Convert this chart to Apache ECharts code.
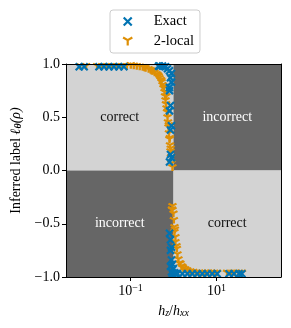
<!DOCTYPE html>
<html><head><meta charset="utf-8">
<script src="https://cdn.jsdelivr.net/npm/echarts@6/dist/echarts.min.js"></script>
<style>html,body{margin:0;padding:0;background:#fff}#c{width:291px;height:328px}</style>
</head><body><div id="c"></div>
<script>
// h_z/h_xx values and inferred labels
const exactH = [0.00641,0.00836,0.0185,0.0242,0.0316,0.0412,0.0537,0.0701,
  0.450,0.474,0.556,0.653,0.726,0.807,0.897,0.851,0.897,0.807,0.807,0.851,0.807,0.897,0.851,0.851,0.897,0.807,
  0.807,0.851,0.897,0.851,0.897,0.944,0.998,0.851,0.897,0.944,1.052,1.109,1.172,1.236,
  1.61,2.10,2.74,3.57,4.67,6.08,7.94,10.35,19.6,25.5,33.3,38.9];
const exactLabel = [0.975,0.975,0.975,0.975,0.975,0.975,0.975,0.975,
  0.98,0.98,0.98,0.975,0.955,0.937,0.91,0.87,0.83,0.78,0.75,0.61,0.56,0.42,0.38,0.15,0.12,0.08,
  -0.59,-0.65,-0.72,-0.75,-0.84,-0.88,-0.92,-0.90,-0.95,-0.97,-0.96,-0.97,-0.97,-0.97,
  -0.97,-0.97,-0.97,-0.97,-0.97,-0.97,-0.97,-0.97,-0.97,-0.97,-0.97,-0.97];
const localH = [0.00676,0.00929,0.0167,0.0218,0.0284,0.0371,0.0483,0.0630,0.0822,
  0.1016,0.119,0.140,0.164,0.192,0.225,0.264,0.294,0.327,0.364,0.405,0.450,0.474,0.500,0.527,0.556,0.587,0.619,
  0.636,0.653,0.670,0.689,0.707,0.726,0.745,0.766,0.786,0.807,0.830,0.851,0.875,0.897,0.946,
  0.946,0.946,0.998,1.052,1.052,1.109,1.109,1.172,1.236,1.303,1.374,1.528,1.700,1.890,2.101,2.463,2.890,3.388,
  3.972,4.662,5.469,6.413,7.518,8.810,10.35,17.58,21.76,26.9,33.3,39.0,
  0.21,0.31,0.43,0.52,0.60,0.68,0.74,0.78,0.82,0.86,0.92,1.02,1.08,1.20,1.45,1.62];
const localLabel = [0.975,0.975,0.975,0.975,0.975,0.975,0.975,0.975,0.975,
  0.984,0.979,0.975,0.970,0.965,0.956,0.946,0.937,0.927,0.913,0.899,0.880,0.862,0.843,0.824,0.796,0.767,0.730,
  0.692,0.654,0.617,0.579,0.541,0.494,0.447,0.400,0.344,0.287,0.231,0.174,0.118,0.061,0.024,
  -0.340,-0.378,-0.410,-0.537,-0.584,-0.631,-0.678,-0.716,-0.792,-0.839,-0.877,-0.905,-0.924,-0.933,-0.943,-0.952,-0.957,-0.965,
  -0.965,-0.965,-0.965,-0.965,-0.965,-0.965,-0.965,-0.965,-0.965,-0.965,-0.965,-0.965,
  0.96,0.93,0.89,0.84,0.78,0.69,0.55,0.42,0.30,0.20,-0.37,-0.47,-0.56,-0.74,-0.88,-0.91];
const xMin = 0.003162, xMax = 316.2, hSplit = 1;
const xTickValues = [0.1, 10];
const xTickLabels = {0.1: '10{sup|−1}', 10: '10{sup|1}'};
const regionNames = ['correct','incorrect','incorrect','correct'];

const FONT = 'Liberation Serif';
const BLUE = '#0173B2', ORANGE = '#DE8F05', LIGHT = '#D3D3D3', DARK = '#666666';
const zip = (a,b) => a.map((v,i)=>[v,b[i]]);

function region(x0,x1,y0,y1,name,dark){
  return [{coord:[x0,y0], name:name,
    itemStyle:{color: dark?DARK:LIGHT, opacity:1},
    label:{show:true, position:'inside', color: dark?'#fff':'#111', fontFamily:FONT, fontSize:14}},
    {coord:[x1,y1]}];
}

const chart = echarts.init(document.getElementById('c'), null, {renderer:'canvas'});
chart.setOption({
  animation:false,
  grid:{left:66, right:10, top:64, bottom:51},
  legend:{
    data:['Exact','2-local'], orient:'vertical', left:110, top:10,
    itemWidth:30, itemHeight:8, itemGap:5, padding:[4,6,4,12],
    borderColor:'#cccccc', borderWidth:1, borderRadius:3,
    textStyle:{fontFamily:FONT, fontSize:14.5, color:'#000', padding:[0,0,0,6]},
    itemStyle:{borderWidth:2.2, opacity:1}
  },
  xAxis:[{
    type:'log', min:xMin, max:xMax, z:10,
    axisLine:{show:true, onZero:false, lineStyle:{color:'#000', width:1}},
    axisTick:{show:true, customValues:xTickValues, inside:false, length:4, lineStyle:{color:'#000'}},
    minorTick:{show:false}, splitLine:{show:false},
    axisLabel:{customValues:xTickValues, margin:6, fontFamily:FONT, fontSize:14, color:'#000',
      formatter:v=>xTickLabels[v] || '',
      rich:{sup:{fontFamily:FONT, fontSize:10, verticalAlign:'top', padding:[0,0,6,0]}}},
    name:'{i|h}{s|z}{n|/}{i|h}{s|xx}', nameLocation:'middle', nameGap:27,
    nameTextStyle:{fontFamily:FONT, fontSize:14, color:'#000',
      rich:{i:{fontFamily:FONT, fontStyle:'italic', fontSize:14}, n:{fontFamily:FONT, fontSize:14},
            s:{fontFamily:FONT, fontStyle:'italic', fontSize:10, verticalAlign:'bottom'}}}
  },{
    type:'log', min:xMin, max:xMax, position:'top', z:10,
    axisLine:{show:true, onZero:false, lineStyle:{color:'#000'}},
    axisTick:{show:false}, axisLabel:{show:false}, splitLine:{show:false}
  }],
  yAxis:[{
    type:'value', min:-1, max:1, interval:0.5, z:10,
    axisLine:{show:true, onZero:false, lineStyle:{color:'#000'}},
    axisTick:{show:true, length:4, lineStyle:{color:'#000'}},
    splitLine:{show:false},
    axisLabel:{margin:6, fontFamily:FONT, fontSize:14, color:'#000',
      formatter:v=>v.toFixed(1).replace('-','−')},
    name:'Inferred label {i|ℓ}{b|θ}{i|(ρ)}', nameLocation:'middle', nameGap:42,
    nameTextStyle:{fontFamily:FONT, fontSize:14, color:'#000', padding:[0,0,0,20],
      rich:{i:{fontFamily:FONT, fontStyle:'italic', fontSize:14},
            b:{fontFamily:FONT, fontStyle:'italic', fontWeight:'bold', fontSize:10, verticalAlign:'bottom'}}}
  },{
    type:'value', min:-1, max:1, position:'right', z:10,
    axisLine:{show:true, onZero:false, lineStyle:{color:'#000'}},
    axisTick:{show:false}, axisLabel:{show:false}, splitLine:{show:false}
  }],
  series:[
    {type:'scatter', data:[], z:1, silent:true,
     markArea:{silent:true, data:[
       region(xMin,hSplit,0,1,regionNames[0],false),
       region(hSplit,xMax,0,1,regionNames[1],true),
       region(xMin,hSplit,-1,0,regionNames[2],true),
       region(hSplit,xMax,-1,0,regionNames[3],false)
     ]}},
    {name:'2-local', type:'scatter', z:2, data:zip(localH, localLabel),
     symbol:'path://M5,5L5,10M5,5L0.67,2.5M5,5L9.33,2.5', symbolSize:[8,7], symbolKeepAspect:true,
     itemStyle:{color:ORANGE, borderColor:ORANGE, borderWidth:2.2, opacity:1}},
    {name:'Exact', type:'scatter', z:3, data:zip(exactH, exactLabel),
     symbol:'path://M0,0L10,10M10,0L0,10', symbolSize:7, symbolKeepAspect:true,
     itemStyle:{color:BLUE, borderColor:BLUE, borderWidth:2.2, opacity:1}}
  ]
});
</script></body></html>
